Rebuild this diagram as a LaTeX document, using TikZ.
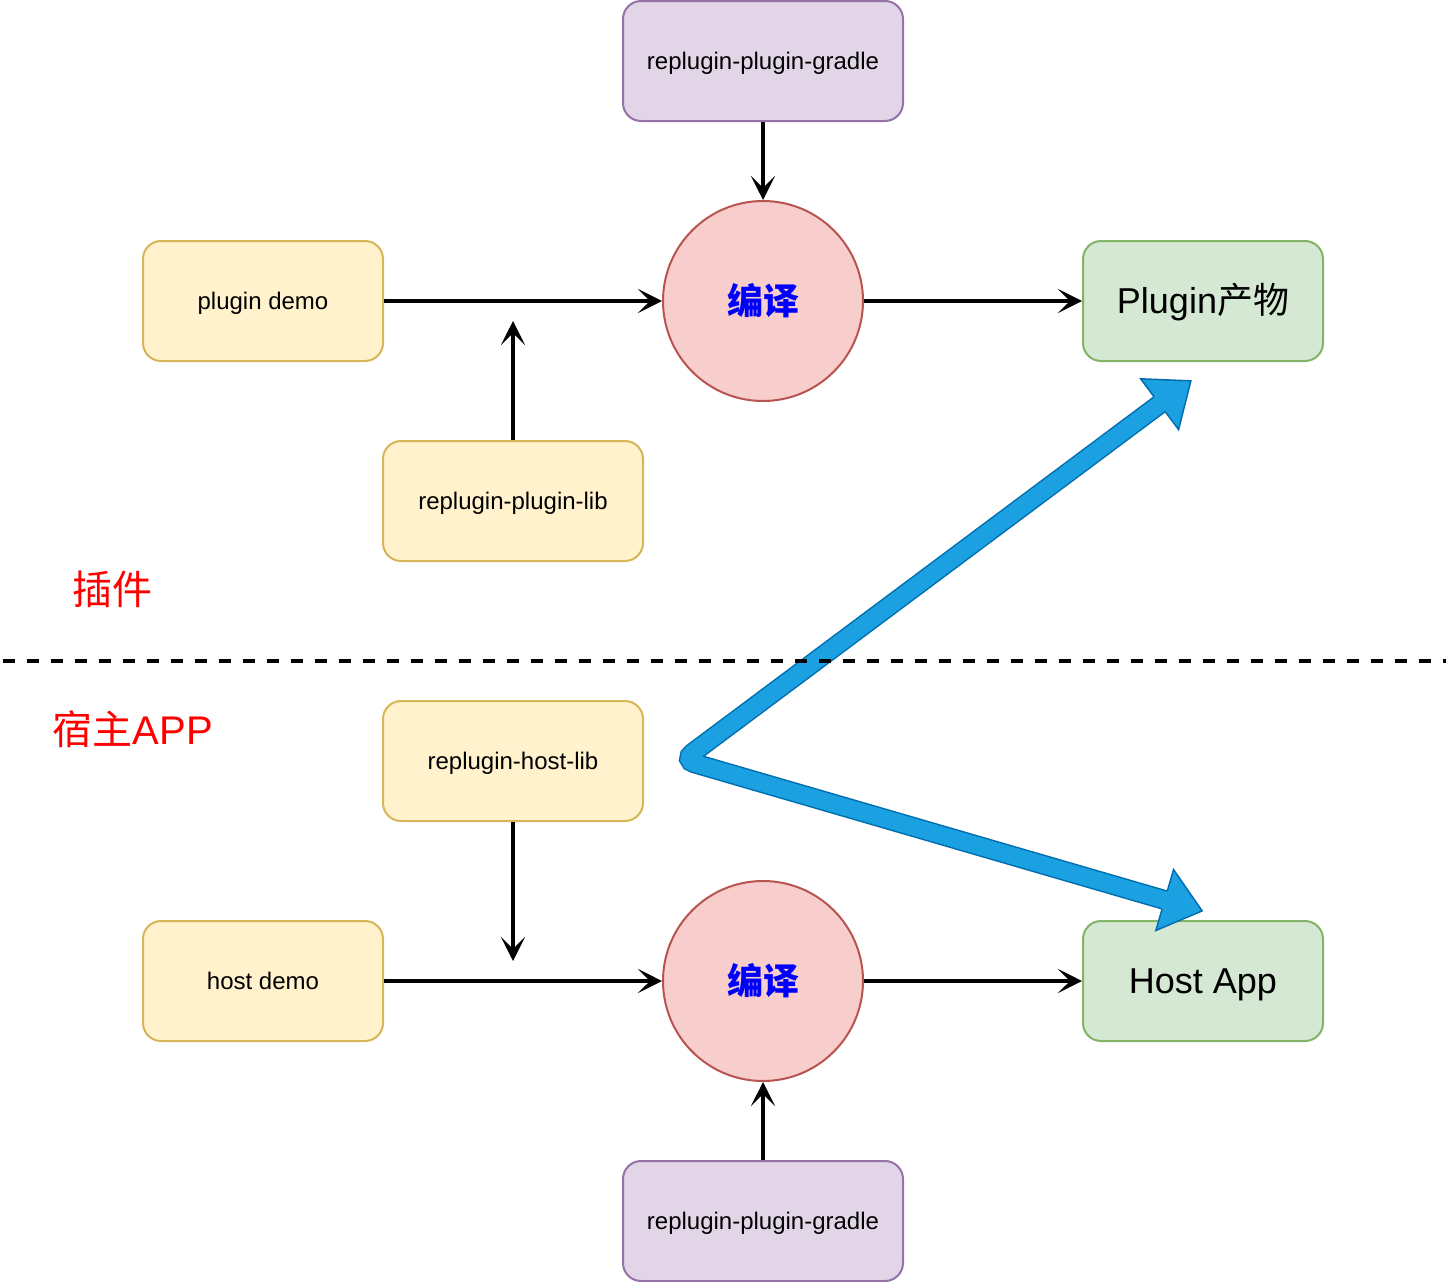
\documentclass[tikz,border=0pt]{standalone}
\usepackage{fontspec}
\setmainfont{Liberation Sans}
\newfontfamily\cjk{Noto Sans CJK SC}
\usetikzlibrary{arrows.meta,calc}
\definecolor{ylwfill}{HTML}{FFF2CC}\definecolor{ylwline}{HTML}{D6B656}
\definecolor{prpfill}{HTML}{E1D5E7}\definecolor{prpline}{HTML}{9673A6}
\definecolor{grnfill}{HTML}{D5E8D4}\definecolor{grnline}{HTML}{82B366}
\definecolor{redfill}{HTML}{F8CECC}\definecolor{redline}{HTML}{B85450}
\definecolor{bluefill}{HTML}{1BA1E2}\definecolor{blueline}{HTML}{006EAF}
\begin{document}
\begin{tikzpicture}[x=1pt,y=-1pt,
  box/.style={rectangle, rounded corners=18pt, line width=2pt, minimum width=240pt,
    minimum height=120pt, inner sep=0pt, text height=22.7pt, text depth=6.1pt,
    font=\fontsize{24}{28}\selectfont},
  ybox/.style={box, fill=ylwfill, draw=ylwline},
  pbox/.style={box, fill=prpfill, draw=prpline, minimum width=280pt},
  gbox/.style={box, fill=grnfill, draw=grnline, text height=34.1pt, text depth=9.1pt,
    font=\fontsize{36}{40}\selectfont},
  compile/.style={circle, minimum size=200pt, fill=redfill, draw=redline, line width=2pt,
    inner sep=0pt, text=blue, font=\cjk\bfseries\fontsize{36}{40}\selectfont},
  lbl/.style={inner sep=0pt, text=red, font=\fontsize{40}{44}\selectfont},
  conn/.style={line width=4pt, -{Stealth[length=24pt,width=24pt,inset=12pt]}},
  headfill/.style={fill=bluefill},
  headline/.style={draw=blueline, line width=1.5pt, line join=miter}
]
\useasboundingbox (0,0) rectangle (1446,1282);

% nodes
\node[pbox] (g1) at (763,61) {replugin-plugin-gradle};
\node[compile] (c1) at (763,301) {编译};
\node[ybox] (pd) at (263,301) {plugin demo};
\node[gbox] (po) at (1203,301) {Plugin{\cjk 产物}};
\node[ybox, minimum width=260pt] (pl) at (513,501) {replugin-plugin-lib};
\node[ybox, minimum width=260pt] (hl) at (513,761) {replugin-host-lib};
\node[ybox] (hd) at (263,981) {host demo};
\node[compile] (c2) at (763,981) {编译};
\node[gbox] (ha) at (1203,981) {Host App};
\node[pbox] (g2) at (763,1221) {replugin-plugin-gradle};

\node[lbl] (t1) at (112,589) {\cjk 插件};
\node[lbl] (t2) at (133,729) {{\cjk 宿主}APP};

\coordinate (libtip) at (513,321);
\coordinate (hosttip) at (513,961);

% connectors
\draw[conn] (g1) -- (c1);
\draw[conn] (pd) -- (c1);
\draw[conn] (c1) -- (po);
\draw[conn] (pl) -- (libtip);
\draw[conn] (hl) -- (hosttip);
\draw[conn] (hd) -- (c2);
\draw[conn] (c2) -- (ha);
\draw[conn] (g2) -- (c2);

% blue flex arrow
\coordinate (B1) at (1159.6,404.2);
\coordinate (C) at (683,760);
\coordinate (B2) at (1164.7,900);
\coordinate (T1) at ($(B1)!39pt!180:(C)$);
\coordinate (T2) at ($(B2)!39pt!180:(C)$);
\draw[blueline, line width=1.5pt, double=bluefill, double distance=17pt, rounded corners=12pt]
  (B1) -- (C) -- (B2);
\foreach \b/\t in {B1/T1,B2/T2}{
  \fill[headfill] (\t) -- ($(\b)!31.7pt!90:(\t)$) -- ($(\b)!31.7pt!-90:(\t)$) -- cycle;
  \draw[headline] ($(\b)!9.25pt!90:(\t)$) -- ($(\b)!31.7pt!90:(\t)$) -- (\t)
    -- ($(\b)!31.7pt!-90:(\t)$) -- ($(\b)!9.25pt!-90:(\t)$);
}

% dashed separator
\coordinate (dl1) at (3,661);
\coordinate (dl2) at (1446,661);
\draw[line width=4pt, dash pattern=on 12pt off 12pt] (dl1) -- (dl2);
\end{tikzpicture}
\end{document}
